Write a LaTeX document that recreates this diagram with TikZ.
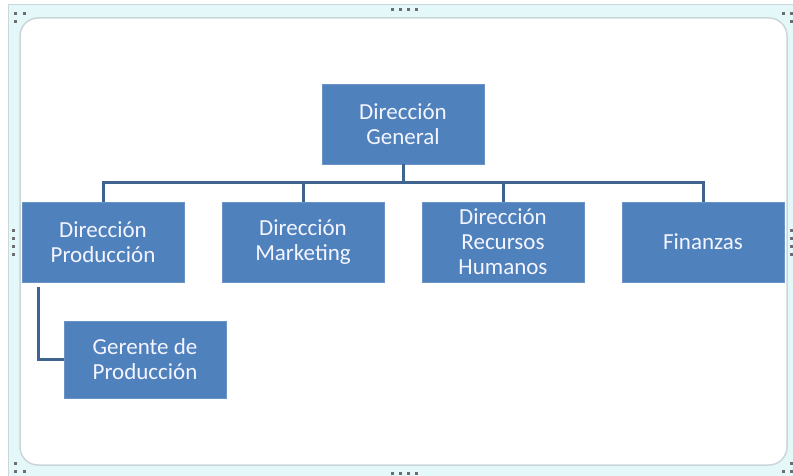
\documentclass[tikz,border=0pt]{standalone}
\usepackage{fontspec}
\setmainfont{Carlito}
\usetikzlibrary{positioning}
\definecolor{boxblue}{HTML}{4F81BD}
\definecolor{boxedge}{HTML}{6A94C8}
\definecolor{linkblue}{HTML}{3F6490}
\definecolor{framecyan}{HTML}{E4F8FA}
\definecolor{frameedge}{HTML}{CBD6D8}
\definecolor{handle}{HTML}{6E6E6E}
\tikzset{unit/.style={rectangle,fill=boxblue,draw=boxedge,line width=0.6pt,
    minimum width=162pt,minimum height=80pt,inner sep=2pt,align=center,
    text=white!96!blue,font=\fontsize{23}{25}\selectfont}}
\tikzset{link/.style={draw=linkblue,line width=3pt}}

\begin{document}
\begin{tikzpicture}[x=1pt,y=-1pt]
\useasboundingbox (0,0) rectangle (793,476);
% frame of the drawing area
\fill[white] (0,0) rectangle (793,476);
\draw[fill=framecyan,draw=frameedge,line width=1pt] (8,5) rectangle (800,480);
\draw[fill=white,draw=frameedge,line width=1.5pt,rounded corners=18pt] (20,18) rectangle (787,465);
% handles
\foreach \hx/\hy in {15/14,24/14,15/22,783/14,791/14,791/22,
    15/463,15/471,24/471,783/471,791/471,791/463,
    392/10,400/10,408/10,416/10,392/473,400/473,408/473,416/473,
    13/230,13/238,13/246,13/254,791/230,791/238,791/246,791/254}
  \fill[handle] (\hx-1.5,\hy-1.5) rectangle (\hx+1.5,\hy+1.5);

% \draw[help lines] (0,0) grid (793,476);
\node (gen) [unit] at (403,124) {Dirección\\General};
\node (prod) [unit] at (103,242) {Dirección\\Producción};
\node (mkt) [unit] at (303,242) {Dirección\\Marketing};
\node (rrhh) [unit] at (503,242) {Dirección\\Recursos\\Humanos};
\node (fin) [unit] at (703,242) {Finanzas};
\node (ger) [unit,minimum height=77pt] at (145,359.5) {Gerente de\\Producción};
%
\coordinate (bus) at (403,183);
\coordinate (gtop) at (38,287);
\path[link] (gen) -- (bus);
\path[link] (prod.north) |- (bus) -| (fin.north);
\path[link] (mkt.north) -- (mkt.north |- bus);
\path[link] (rrhh.north) -- (rrhh.north |- bus);
\path[link] (gtop) |- (ger.west);
\end{tikzpicture}
\end{document}
